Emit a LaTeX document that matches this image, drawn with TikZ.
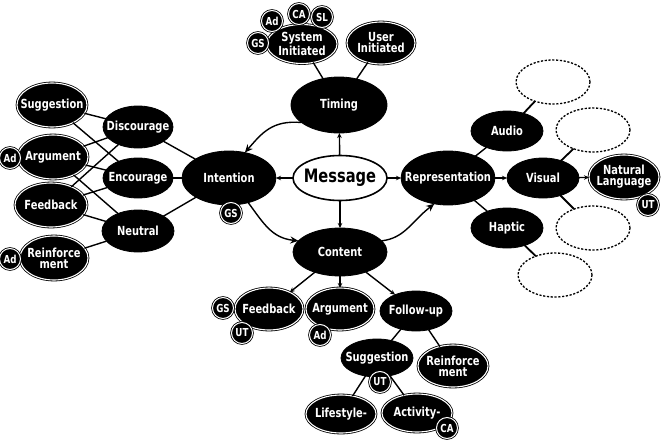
\documentclass[tikz,border=0pt]{standalone}
\usepackage{fontspec}
\setmainfont{DejaVu Sans Condensed}[FakeStretch=0.88]
\usetikzlibrary{shapes.geometric,arrows.meta}
\begin{document}
\begin{tikzpicture}[x=1pt,y=-1pt,
  base/.style={ellipse, inner sep=0pt, outer sep=0pt},
  sz/.style 2 args={minimum width=#1, minimum height=#2},
  txt/.style={text=white, font=\fontsize{12.5}{11}\selectfont\bfseries, align=center, inner sep=0pt},
  T/.style={label={[txt]center:#1}},
  blk/.style={base, fill=black, draw=black, line width=0.8pt},
  dbl/.style={base, fill=black, draw=black, line width=0.8pt, double=white, double distance=1.1pt},
  dsh/.style={base, draw=black, line width=1.3pt, dash pattern=on 2.2pt off 1.6pt},
  msg/.style={base, draw=black, fill=white, line width=1.6pt},
  sm/.style={circle, fill=black, draw=black, line width=0.8pt, double=white, double distance=1pt,
    minimum size=21, inner sep=0pt, text=white, font=\fontsize{11}{10}\selectfont\bfseries},
  ln/.style={draw=black, line width=1.4pt},
  ar/.style={ln, -{Stealth[length=5pt,width=4.5pt]}},
  car/.style={ln, -{Stealth[length=8pt,width=7pt]}}
]
\useasboundingbox (0,0) rectangle (661,442);

% main nodes
\node[msg, sz={94}{45}, label={[font=\fontsize{18.5}{18}\selectfont\bfseries]center:Message}] (message) at (340,178) {};
\node[blk, sz={96}{56}, T=Timing] (timing) at (339,105) {};
\node[dbl, sz={70}{39}, T={System\\Initiated}] (si) at (302,44) {};
\node[dbl, sz={68}{42}, T={User\\Initiated}] (ui) at (381,43) {};

\node[blk, sz={94}{54}, T=Intention] (intention) at (229,178) {};
\node[blk, sz={70}{42}, T=Discourage] (discourage) at (138,127) {};
\node[blk, sz={70}{40}, T=Encourage] (encourage) at (138,178) {};
\node[blk, sz={72}{42}, T=Neutral] (neutral) at (138,231) {};
\node[dbl, sz={70}{44}, T=Suggestion] (lsugg) at (52,105) {};
\node[dbl, sz={70}{44}, T=Argument] (larg) at (53,157) {};
\node[dbl, sz={72}{44}, T=Feedback] (lfeed) at (51,205) {};
\node[dbl, sz={68}{44}, T={Reinforce\\ment}] (lreinf) at (54,258) {};

\node[blk, sz={94}{48}, T=Content] (content) at (340,252) {};
\node[dbl, sz={68}{42}, T=Feedback] (bfeed) at (269,309) {};
\node[dbl, sz={68}{42}, T=Argument] (barg) at (340,309) {};
\node[blk, sz={72}{40}, T=Follow-up] (follow) at (416,311) {};
\node[blk, sz={72}{38}, T=Suggestion] (bsugg) at (377,358) {};
\node[dbl, sz={70}{42}, T={Reinforce\\ment}] (breinf) at (453,366) {};
\node[dbl, sz={70}{38}, T=Lifestyle-] (life) at (341,414) {};
\node[dbl, sz={70}{38}, T=Activity-] (act) at (417,413) {};

\node[blk, sz={94}{54}, T=Representation] (repr) at (448,178) {};
\node[blk, sz={72}{40}, T=Audio] (audio) at (507,131) {};
\node[blk, sz={72}{40}, T=Visual] (visual) at (543,178) {};
\node[blk, sz={72}{40}, T=Haptic] (haptic) at (507,228) {};
\node[dbl, sz={70}{44}, T={Natural\\Language}] (nl) at (624,177) {};
\node[dsh, sz={74}{44}] (d1) at (553,82) {};
\node[dsh, sz={74}{44}] (d2) at (593,130) {};
\node[dsh, sz={74}{44}] (d3) at (593,228) {};
\node[dsh, sz={74}{44}] (d4) at (555,275) {};

% connectors from Message
\draw[ar] (message) -- (timing);
\draw[ar] (message) -- (intention);
\draw[ar] (message) -- (repr);
\draw[ar] (message) -- (content);

% curved arrows
\draw[car] (timing.205) .. controls (272,120) and (262,133) .. (intention.58);
\draw[car] (intention.-52) .. controls (264,224) and (272,238) .. (content.165);
\draw[car] (content.15) .. controls (405,238) and (411,222) .. (repr.-118);

% timing
\draw[ln] (timing) -- (si);
\draw[ln] (timing) -- (ui);

% intention
\draw[ln] (intention) -- (discourage);
\draw[ln] (intention) -- (encourage);
\draw[ln] (intention) -- (neutral);
\draw[ln] (discourage) -- (lsugg);
\draw[ln] (discourage) -- (larg);
\draw[ln] (discourage) -- (lfeed);
\draw[ln] (encourage) -- (lsugg);
\draw[ln] (encourage) -- (larg);
\draw[ln] (encourage) -- (lfeed);
\draw[ln] (neutral) -- (larg);
\draw[ln] (neutral) -- (lfeed);
\draw[ln] (neutral) -- (lreinf);

% content
\draw[ar] (content) -- (bfeed);
\draw[ar] (content) -- (barg);
\draw[ar] (content) -- (follow);
\draw[ln] (follow) -- (bsugg);
\draw[ln] (follow) -- (breinf);
\draw[ln] (bsugg) -- (life);
\draw[ln] (bsugg) -- (act);

% representation
\draw[ln] (repr) -- (audio);
\draw[ar] (repr) -- (visual);
\draw[ln] (repr) -- (haptic);
\draw[ar] (visual) -- (nl);
\draw[ln, line width=1.8pt] (audio) -- (d1);
\draw[ln, line width=1.8pt] (visual) -- (d2);
\draw[ln, line width=1.8pt] (visual) -- (d3);
\draw[ln, line width=1.8pt] (haptic) -- (d4);

% small tags
\node[sm] (siad) at (272,21) {Ad};
\node[sm] (sica) at (299,14) {CA};
\node[sm] (sisl) at (322,17) {SL};
\node[sm] (sigs) at (258,43) {GS};
\node[sm] (ings) at (231,213) {GS};
\node[sm] (lad1) at (10,158) {Ad};
\node[sm] (lad2) at (10,259) {Ad};
\node[sm] (bfgs) at (223,308) {GS};
\node[sm] (bfut) at (242,333) {UT};
\node[sm] (baad) at (320,335) {Ad};
\node[sm] (bsut) at (380,382) {UT};
\node[sm] (acca) at (447,428) {CA};
\node[sm] (nlut) at (648,205) {UT};
\end{tikzpicture}
\end{document}
